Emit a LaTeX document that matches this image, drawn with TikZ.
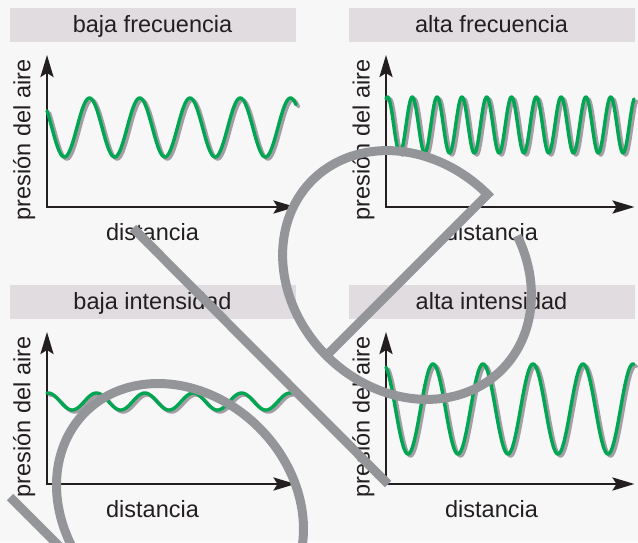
\documentclass[tikz,border=0pt]{standalone}
\usepackage{fontspec}
\setmainfont{Liberation Sans}
\usetikzlibrary{arrows.meta}
\definecolor{bgc}{HTML}{F7F7F7}
\definecolor{barc}{HTML}{E0DCE0}
\definecolor{inkc}{HTML}{231F20}
\definecolor{wavec}{HTML}{00A651}
\definecolor{shadec}{HTML}{A59DA6}
\definecolor{overc}{HTML}{939598}
\tikzset{
  titlebar/.style={fill=barc, draw=none},
  labeltext/.style={text=inkc, font=\fontsize{23.5}{28}\selectfont, inner sep=0pt},
  axisline/.style={draw=inkc, line width=2.6pt, line join=miter,
    {Stealth[length=22pt,width=13pt,inset=4pt]}-{Stealth[length=22pt,width=13pt,inset=4pt]}},
  wavegreen/.style={draw=wavec, line width=3.4pt, line join=round, line cap=round},
  waveshadow/.style={draw=shadec, line width=3.4pt, line join=round, line cap=round},
  greystroke/.style={draw=overc, line width=9pt, line join=miter}
}
\newcommand\drawpanel[4]{%
  \begin{scope}[shift={(#1,#2)}]
    \fill[titlebar] (10,8) rectangle (296,42);
    \node[labeltext, anchor=base] (#4title) at (152.5,32.3) {#3};
    \coordinate (#4o) at (47,207);
    \coordinate (#4y) at (47,55);
    \coordinate (#4x) at (295.5,207);
    \draw[axisline] (#4y) -- (#4o) -- (#4x);
    \node[labeltext, rotate=90, anchor=base] (#4ylab) at (30.5,140) {presión del aire};
    \node[labeltext, anchor=base] (#4xlab) at (152.5,240.7) {distancia};
  \end{scope}}
\begin{document}
\begin{tikzpicture}[x=1pt,y=-1pt]
\fill[bgc] (0,0) rectangle (638,542);
\useasboundingbox (0,0) rectangle (638,542);

\drawpanel{0}{0}{baja frecuencia}{p1}
\drawpanel{339}{0}{alta frecuencia}{p2}
\drawpanel{0}{277}{baja intensidad}{p3}
\drawpanel{339}{277}{alta intensidad}{p4}

% waves (shadow then green)
\draw[waveshadow] plot[domain=47:296, samples=300] ({\x+2.5}, {129.5 - 29.5*cos((360/50.25)*(\x-89.5))});
\draw[wavegreen]  plot[domain=47:296, samples=300] (\x, {127.5 - 29.5*cos((360/50.25)*(\x-89.5))});

\draw[waveshadow] plot[domain=386:634, samples=500] ({\x+2.5}, {127 - 28*cos((360/24.8)*(\x-387.5))});
\draw[wavegreen]  plot[domain=386:634, samples=500] (\x, {125 - 28*cos((360/24.8)*(\x-387.5))});

\draw[waveshadow] plot[domain=47:291, samples=300] ({\x+2.5}, {403.5 - 8.5*cos((360/48.4)*(\x-48))});
\draw[wavegreen]  plot[domain=47:291, samples=300] (\x, {401.5 - 8.5*cos((360/48.4)*(\x-48))});

\draw[waveshadow] plot[domain=386:634, samples=300] ({\x+2.5}, {411 - 45*cos((360/50)*(\x-383))});
\draw[wavegreen]  plot[domain=386:634, samples=300] (\x, {409 - 45*cos((360/50)*(\x-383))});

% grey overlay strokes
\begin{scope}
\clip (0,0) rectangle (638,542);
\coordinate (l1a) at (133,228);
\coordinate (l1b) at (388,484);
\draw[greystroke] (l1a) -- (l1b);
\coordinate (l2a) at (10,497);
\coordinate (l2b) at (60,547);
\draw[greystroke] (l2a) -- (l2b);
% e-shaped loop: ellipse centre (407,275), a=134 along (1,1), b=114 along (1,-1)
\coordinate (eFoot) at ({407-114*0.7071},{275+114*0.7071});
\draw[greystroke] plot[domain=68:-270, samples=200]
  ({407 + (134*cos(\x) + 114*sin(\x))*0.7071}, {275 + (134*cos(\x) - 114*sin(\x))*0.7071})
  -- (eFoot);
% lower-left loop
\draw[greystroke] plot[domain=0:360, samples=200]
  ({180 + (134*cos(\x) + 112*sin(\x))*0.7071}, {507 + (134*cos(\x) - 112*sin(\x))*0.7071});
\end{scope}
\end{tikzpicture}
\end{document}
